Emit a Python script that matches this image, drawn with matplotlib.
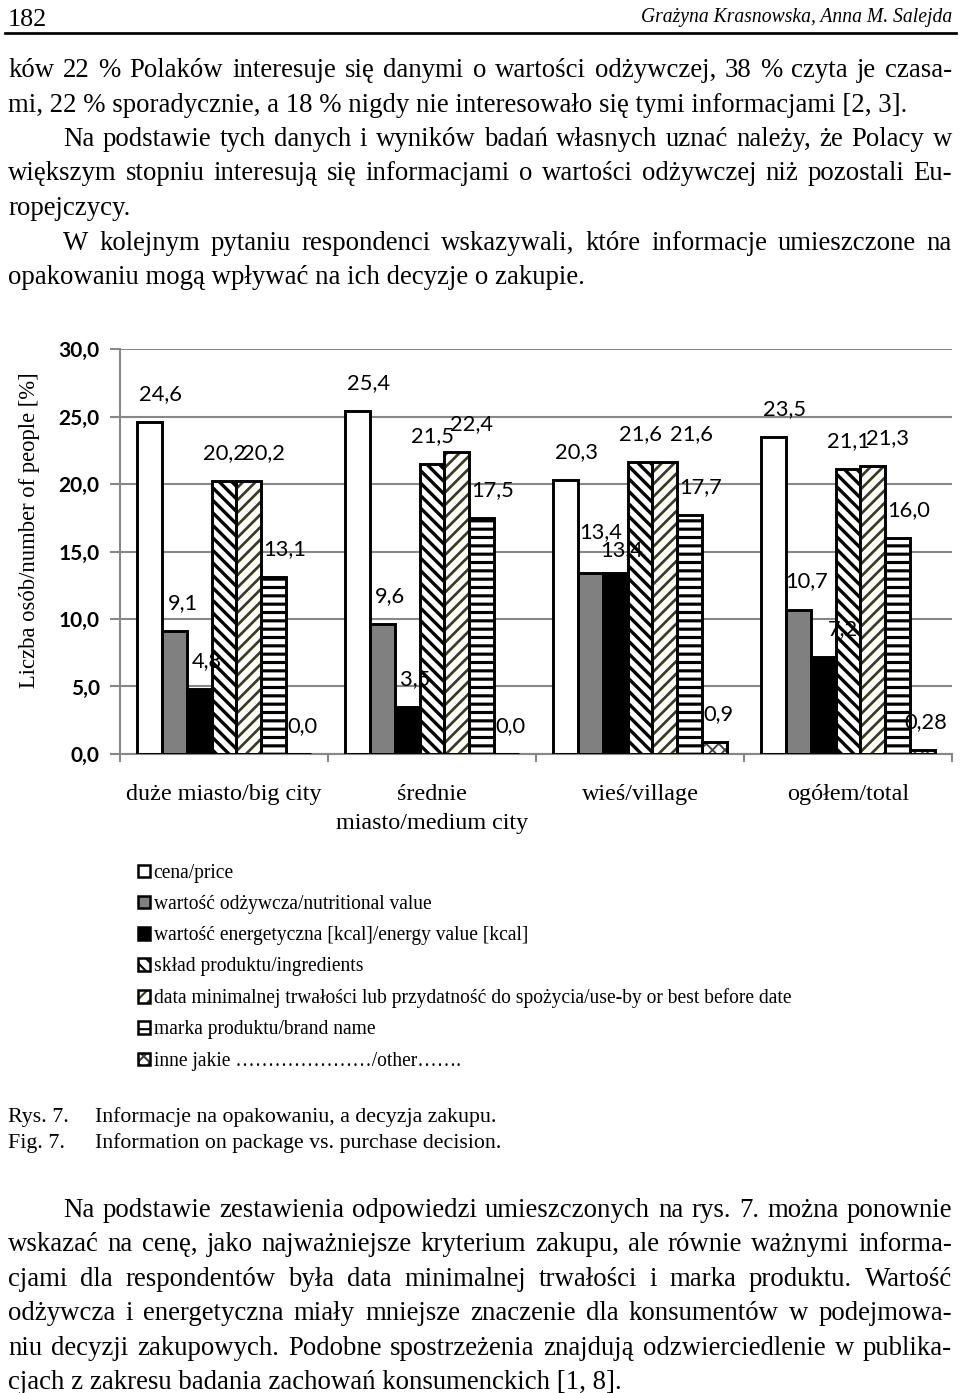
import matplotlib
matplotlib.use('Agg')
import matplotlib.pyplot as plt
from matplotlib.patches import Patch
from matplotlib.legend_handler import HandlerTuple
import numpy as np

# ---------------- data ----------------
categories = ['duże miasto/big city', 'średnie\nmiasto/medium city', 'wieś/village', 'ogółem/total']
series_names = ['cena/price',
                'wartość odżywcza/nutritional value',
                'wartość energetyczna [kcal]/energy value [kcal]',
                'skład produktu/ingredients',
                'data minimalnej trwałości lub przydatność do spożycia/use-by or best before date',
                'marka produktu/brand name',
                'inne jakie …………………/other…….']
price = [24.6, 25.4, 20.3, 23.5]
nutritional = [9.1, 9.6, 13.4, 10.7]
energy = [4.8, 3.5, 13.4, 7.2]
ingredients = [20.2, 21.5, 21.6, 21.1]
best_before = [20.2, 22.4, 21.6, 21.3]
brand = [13.1, 17.5, 17.7, 16.0]
other = [0.0, 0.0, 0.9, 0.28]
ytick_values = [0, 5, 10, 15, 20, 25, 30]
y_label = 'Liczba osób/number of people [%]'

header_page = '182'
header_authors = 'Grażyna Krasnowska, Anna M. Salejda'
para_top = [
    ('ków 22 % Polaków interesuje się danymi o wartości odżywczej, 38 % czyta je czasa-', False, True),
    ('mi, 22 % sporadycznie, a 18 % nigdy nie interesowało się tymi informacjami [2, 3].', False, False),
    ('Na podstawie tych danych i wyników badań własnych uznać należy, że Polacy w', True, True),
    ('większym stopniu interesują się informacjami o wartości odżywczej niż pozostali Eu-', False, True),
    ('ropejczycy.', False, False),
    ('W kolejnym pytaniu respondenci wskazywali, które informacje umieszczone na', True, True),
    ('opakowaniu mogą wpływać na ich decyzje o zakupie.', False, False),
]
caption = [('Rys. 7.', 'Informacje na opakowaniu, a decyzja zakupu.'),
           ('Fig. 7.', 'Information on package vs. purchase decision.')]
para_bottom = [
    ('Na podstawie zestawienia odpowiedzi umieszczonych na rys. 7. można ponownie', True, True),
    ('wskazać na cenę, jako najważniejsze kryterium zakupu, ale równie ważnymi informa-', False, True),
    ('cjami dla respondentów była data minimalnej trwałości i marka produktu. Wartość', False, True),
    ('odżywcza i energetyczna miały mniejsze znaczenie dla konsumentów w podejmowa-', False, True),
    ('niu decyzji zakupowych. Podobne spostrzeżenia znajdują odzwierciedlenie w publika-', False, True),
    ('cjach z zakresu badania zachowań konsumenckich [1, 8].', False, False),
]

series = [price, nutritional, energy, ingredients, best_before, brand, other]

# ---------------- styles ----------------
SERIF = 'Liberation Serif'
SANS = 'Lato'
styles = [
    dict(fc='white', hatch=None, hc='black', hlw=1.0, ldx=11),
    dict(fc='#808080', hatch=None, hc='black', hlw=1.0, ldx=8),
    dict(fc='black', hatch=None, hc='black', hlw=1.0, ldx=8),
    dict(fc='white', hatch='\\\\\\\\', hc='black', hlw=1.6, ldx=0),
    dict(fc='white', hatch='////', hc='#3c3c1c', hlw=1.3, ldx=15),
    dict(fc='white', hatch='---', hc='black', hlw=1.5, ldx=11),
    dict(fc='white', hatch='xxxx', hc='#444444', hlw=0.9, ldx=4),
]
# small extra label nudges (series index, group index) -> (dx px, dy px)
label_nudge = {(1, 2): (2, -13), (2, 2): (-2, 5), (2, 3): (12, 0), (4, 2): (12, 0)}

W, H, DPI = 960, 1393, 150
PX = 72 / DPI  # points per pixel
fig = plt.figure(figsize=(W / DPI, H / DPI), dpi=DPI)
fig.patch.set_facecolor('white')
R = fig.canvas.get_renderer()


def fx(x):
    return x / W


def fy(y):
    return 1 - y / H


def twidth(s, **kw):
    t = fig.text(0, 0, s, **kw)
    w = t.get_window_extent(R).width
    t.remove()
    return w


def fit_size(s, target, **kw):
    return 10 * target / twidth(s, size=10, **kw)


def put_line(s, x0, ybase, size, justify_to=None, **kw):
    if justify_to is None:
        fig.text(fx(x0), fy(ybase), s, size=size, ha='left', va='baseline', **kw)
        return
    words = s.split(' ')
    widths = [twidth(w, size=size, **kw) for w in words]
    gap = (justify_to - x0 - sum(widths)) / (len(words) - 1)
    x = x0
    for w, wd in zip(words, widths):
        fig.text(fx(x), fy(ybase), w, size=size, ha='left', va='baseline', **kw)
        x += wd + gap


# ---------------- page text ----------------
body_size = fit_size(para_top[1][0], 903, family=SERIF)
LEFT, RIGHT, INDENT = 8, 952, 63

fig.text(fx(8), fy(26), header_page, size=fit_size(header_page, 39, family=SERIF),
         family=SERIF, ha='left', va='baseline')
fig.text(fx(952), fy(22), header_authors, size=fit_size(header_authors, 312, family=SERIF, style='italic'),
         family=SERIF, style='italic', ha='right', va='baseline')
fig.add_artist(plt.Line2D([fx(5), fx(956)], [fy(33), fy(33)], color='black', lw=1.3))

for k, (s, indent, just) in enumerate(para_top):
    yb = 77 + 34.5 * k
    put_line(s, INDENT if indent else LEFT, yb, body_size, RIGHT if just else None, family=SERIF)

for k, (s, indent, just) in enumerate(para_bottom):
    yb = 1217 + 34.4 * k
    put_line(s, INDENT if indent else LEFT, yb, body_size, RIGHT if just else None, family=SERIF)

cap_size = fit_size(caption[0][1], 405, family=SERIF)
for k, (a, b) in enumerate(caption):
    yb = 1122 + 26 * k
    fig.text(fx(8), fy(yb), a, size=cap_size, family=SERIF, ha='left', va='baseline')
    fig.text(fx(95), fy(yb), b, size=cap_size, family=SERIF, ha='left', va='baseline')

# ---------------- chart ----------------
ax = fig.add_axes([fx(120), fy(754), (952 - 120) / W, (754 - 349) / H])
ax.set_xlim(-0.5, 3.5)
ax.set_ylim(0, 30)
n = len(series)
bw = 0.119
x = np.arange(len(categories))
for i, (vals, st) in enumerate(zip(series, styles)):
    xi = x + (i - (n - 1) / 2) * bw
    # solid fill, then (labels), then hatch, then outline
    ax.bar(xi, vals, bw, color=st['fc'], linewidth=0, zorder=1.5)
    if st['hatch']:
        with plt.rc_context({'hatch.linewidth': st['hlw']}):
            ax.bar(xi, vals, bw, facecolor='none', edgecolor=st['hc'], hatch=st['hatch'],
                   linewidth=0, zorder=2)
    ax.bar(xi, vals, bw, fill=False, edgecolor='black', linewidth=1.4, zorder=3)
    for g, (xx, v) in enumerate(zip(xi, vals)):
        lbl = (f'{v:.2f}' if round(v, 1) != v else f'{v:.1f}').replace('.', ',')
        ndx, ndy = label_nudge.get((i, g), (0, 0))
        ax.annotate(lbl, (xx, v), xytext=((st['ldx'] + ndx) * PX, (28 - ndy) * PX),
                    textcoords='offset points', ha='center', va='center', size=10.5,
                    family=SANS, zorder=1.8)

grid_c = '#888888'
ax.set_yticks(ytick_values)
ax.set_yticklabels([f'{v:.1f}'.replace('.', ',') for v in ytick_values],
                   family=SANS, weight='bold', size=10)
ax.yaxis.grid(True, color=grid_c, lw=1.0, zorder=0)
ax.set_axisbelow(True)
ax.set_xticks(np.arange(-0.5, 4, 1))
ax.set_xticklabels([])
ax.tick_params(axis='y', length=4.8, width=1.0, color=grid_c, pad=5)
ax.tick_params(axis='x', length=3.8, width=1.0, color=grid_c)
for s in ['top', 'right']:
    ax.spines[s].set_visible(False)
for s in ['left', 'bottom']:
    ax.spines[s].set_color(grid_c)
    ax.spines[s].set_linewidth(1.0)

cat_size = fit_size(categories[0], 196, family=SERIF)
for xc, c in zip(x, categories):
    ax.annotate(c, (xc, 0), xytext=(0, -14.6), textcoords='offset points', ha='center', va='top',
                size=cat_size, family=SERIF, linespacing=1.45, annotation_clip=False)

fig.text(fx(30), fy(530), y_label, rotation=90, ha='center', va='center',
         size=fit_size(y_label, 316, family=SERIF), family=SERIF)

# ---------------- legend ----------------
handles = []
for st in styles:
    with plt.rc_context({'hatch.linewidth': min(st['hlw'], 1.2)}):
        hp = Patch(facecolor=st['fc'], edgecolor=st['hc'], hatch=st['hatch'], linewidth=0)
    handles.append((hp, Patch(fill=False, edgecolor='black', linewidth=1.2)))
leg_size = fit_size(series_names[4], 640, family=SERIF)
fig.legend(handles, series_names, loc='upper left', bbox_to_anchor=(fx(138), fy(864)),
           frameon=False, borderpad=0, borderaxespad=0, handlelength=0.6, handleheight=0.6,
           handletextpad=0.2, labelspacing=0.62, prop=dict(family=SERIF, size=leg_size),
           handler_map={tuple: HandlerTuple(ndivide=1, pad=0)})

fig.savefig('out.png', dpi=DPI, facecolor='white')
